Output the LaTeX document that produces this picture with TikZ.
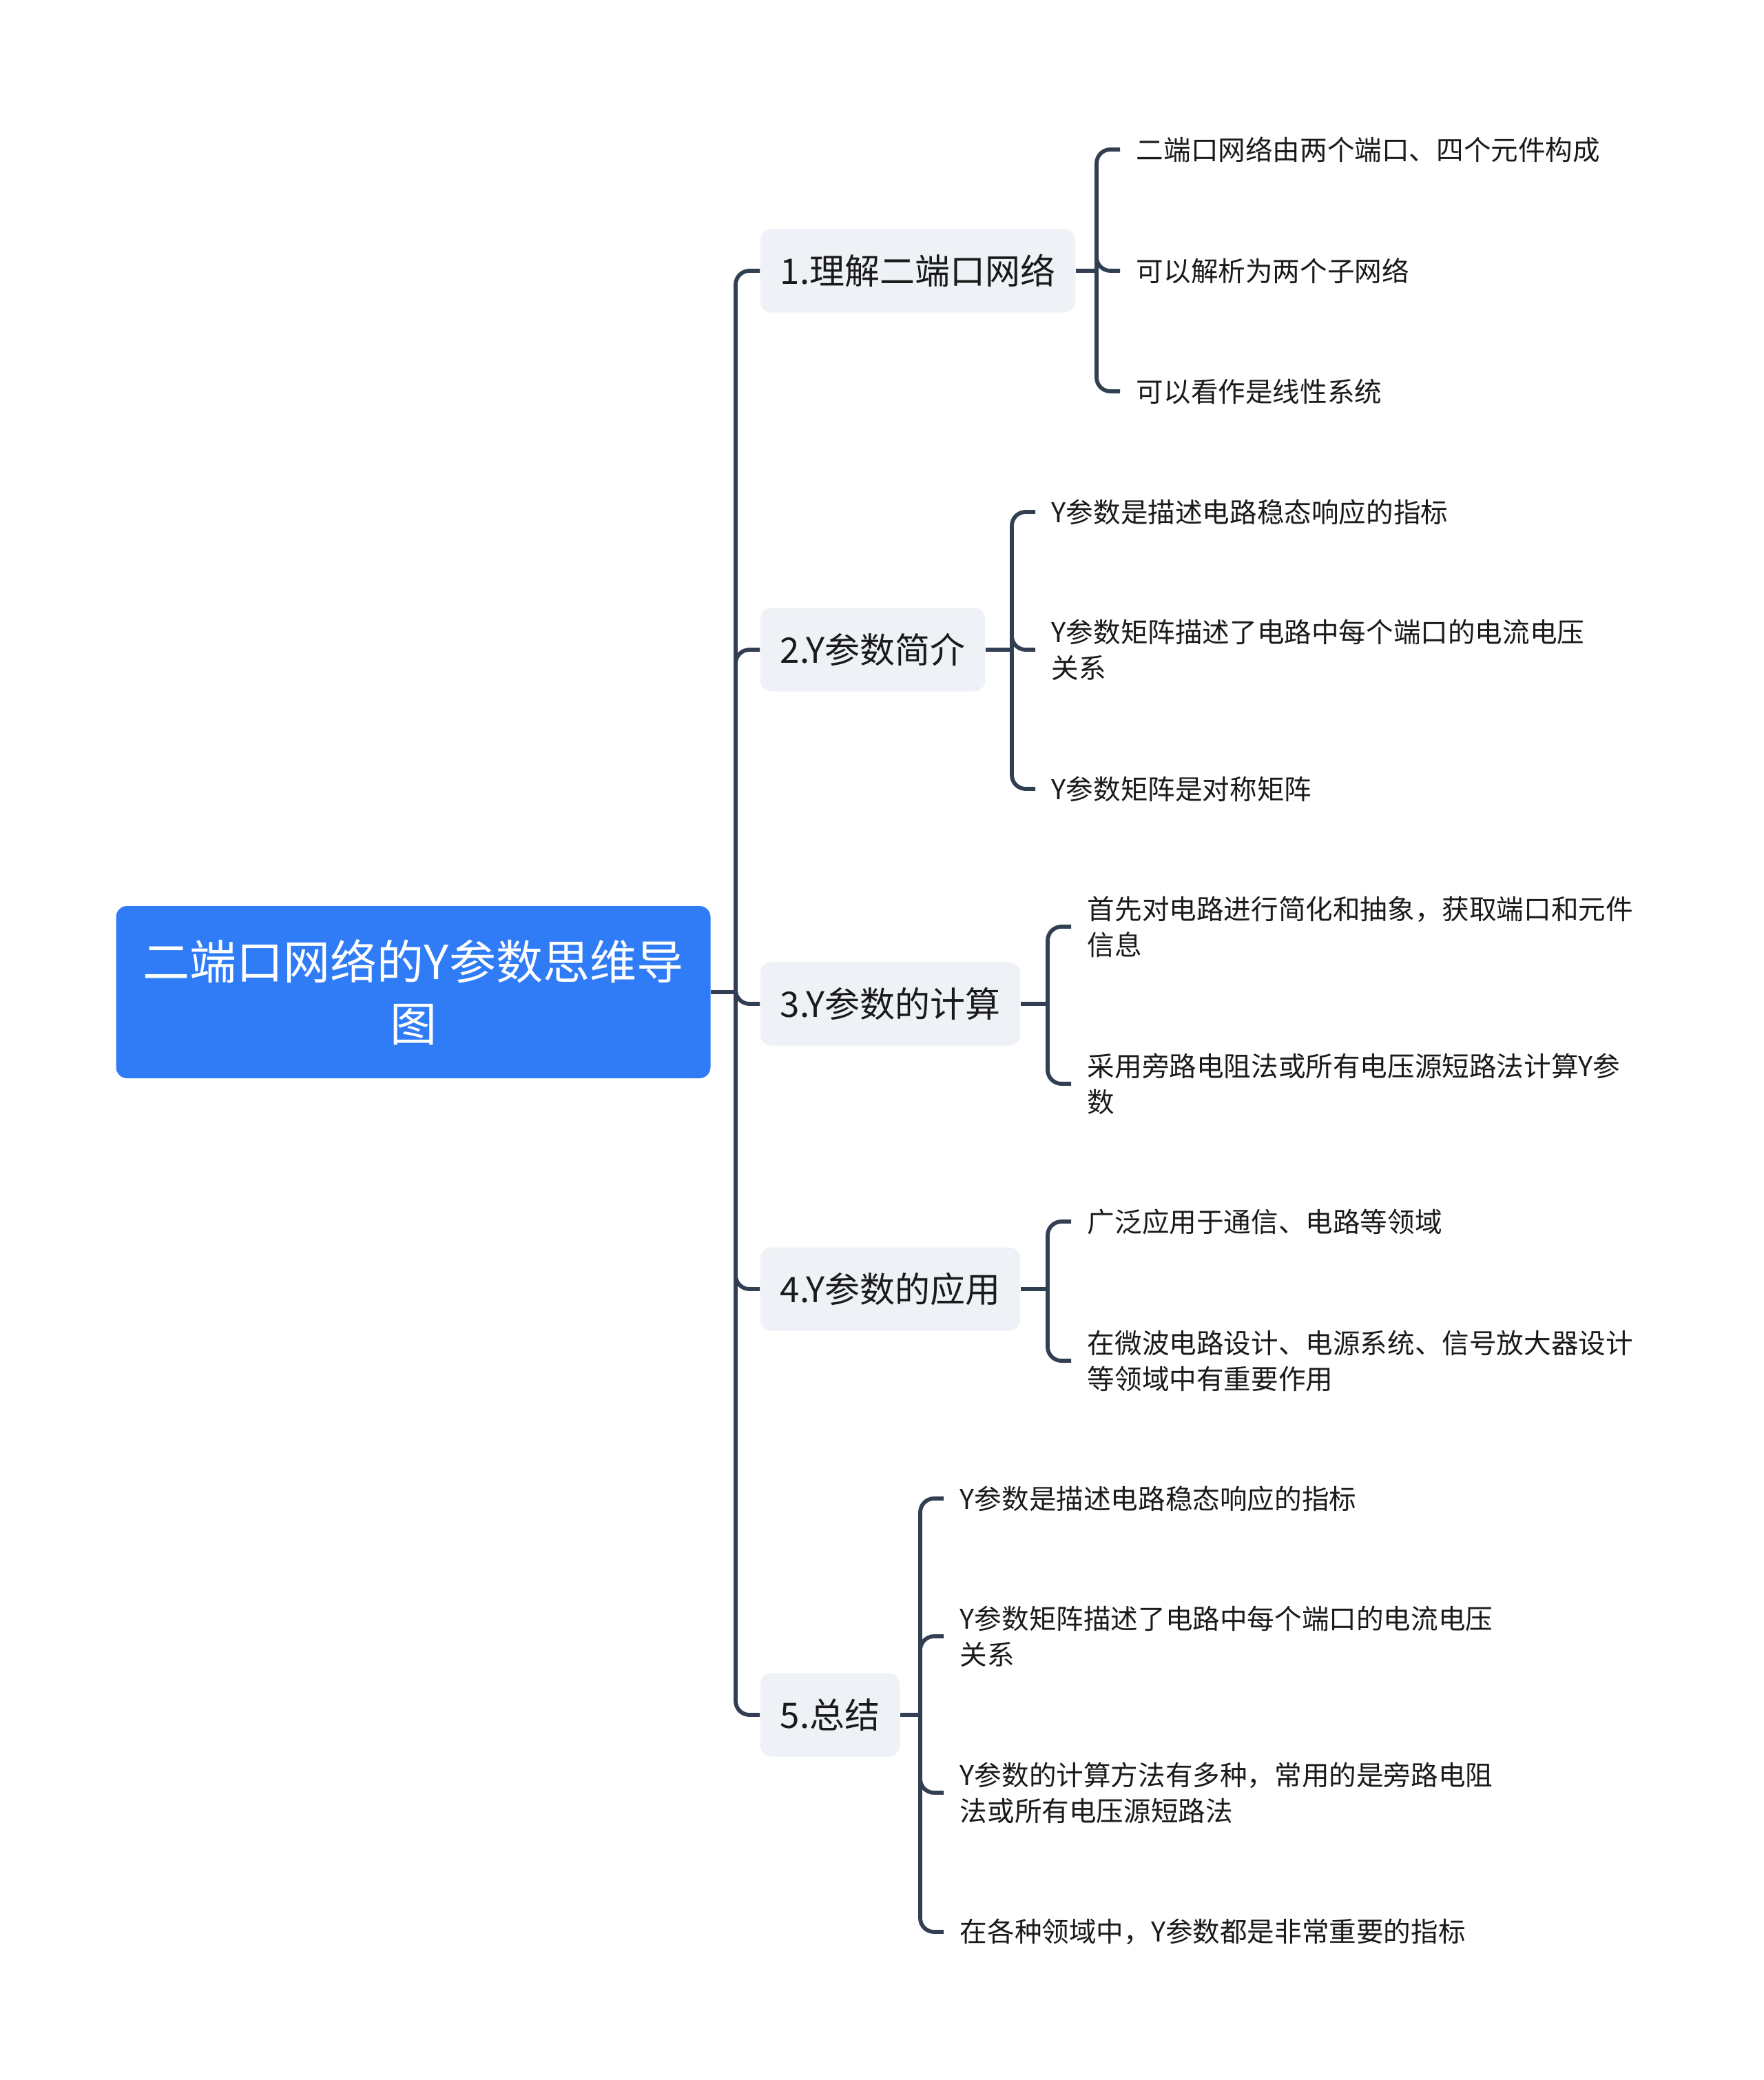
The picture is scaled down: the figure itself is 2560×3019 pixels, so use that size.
\documentclass[tikz,border=0pt]{standalone}
\usepackage{fontspec}
\setmainfont{Noto Sans CJK SC}
\usetikzlibrary{positioning}
\definecolor{rootblue}{HTML}{2F7CF6}
\definecolor{topicgray}{HTML}{EEF1F5}
\definecolor{linkslate}{HTML}{323F52}
\definecolor{textdark}{HTML}{1A1A1A}

\tikzset{
  rootbox/.style={fill=rootblue, rounded corners=4pt, text=white, align=center,
    font=\fontsize{17}{22.5}\selectfont, minimum width=215.75pt, minimum height=62.5pt, inner sep=0pt},
  topic/.style={fill=topicgray, rounded corners=4pt, text=textdark, anchor=west,
    font=\fontsize{12.75}{16}\selectfont, inner xsep=7.25pt, minimum height=30.25pt},
  leaf/.style={text=textdark, anchor=west, align=left,
    font=\fontsize{9.9}{13}\selectfont, inner xsep=5.75pt, inner ysep=0pt},
  link/.style={draw=linkslate, line width=1.45pt, rounded corners=5pt}
}

\begin{document}
\begin{tikzpicture}[x=0.25pt, y=-0.25pt]
  \useasboundingbox (0,0) rectangle (2560,3019);

  % central topic
  \node[rootbox] (root) at (600,1440) {二端口网络的Y参数思维导\\图};

  % main branches
  \node[topic] (t1) at (1103,393) {1.理解二端口网络};
  \node[topic] (t2) at (1103,943) {2.Y参数简介};
  \node[topic] (t3) at (1103,1457) {3.Y参数的计算};
  \node[topic] (t4) at (1103,1871) {4.Y参数的应用};
  \node[topic] (t5) at (1103,2489) {5.总结};

  % leaves
  \node[leaf] (l11) at (1626,217) {二端口网络由两个端口、四个元件构成};
  \node[leaf] (l12) at (1626,393) {可以解析为两个子网络};
  \node[leaf] (l13) at (1626,568) {可以看作是线性系统};

  \node[leaf] (l21) at (1503,743) {Y参数是描述电路稳态响应的指标};
  \node[leaf] (l22) at (1503,943) {Y参数矩阵描述了电路中每个端口的电流电压\\关系};
  \node[leaf] (l23) at (1503,1145) {Y参数矩阵是对称矩阵};

  \node[leaf] (l31) at (1555,1345) {首先对电路进行简化和抽象，获取端口和元件\\信息};
  \node[leaf] (l32) at (1555,1573) {采用旁路电阻法或所有电压源短路法计算Y参\\数};

  \node[leaf] (l41) at (1555,1773) {广泛应用于通信、电路等领域};
  \node[leaf] (l42) at (1555,1975) {在微波电路设计、电源系统、信号放大器设计\\等领域中有重要作用};

  \node[leaf] (l51) at (1370,2175) {Y参数是描述电路稳态响应的指标};
  \node[leaf] (l52) at (1370,2375) {Y参数矩阵描述了电路中每个端口的电流电压\\关系};
  \node[leaf] (l53) at (1370,2602) {Y参数的计算方法有多种，常用的是旁路电阻\\法或所有电压源短路法};
  \node[leaf] (l54) at (1370,2804) {在各种领域中，Y参数都是非常重要的指标};

  % links
  \coordinate (hub) at (1068,1440);
  \draw[link] (root.east) -- (hub);
  \foreach \t in {t1,t2,t3,t4,t5} \draw[link] (hub) |- (\t.west);

  \coordinate (k1) at (1592,393);
  \coordinate (k2) at (1469,943);
  \coordinate (k3) at (1521,1457);
  \coordinate (k4) at (1521,1871);
  \coordinate (k5) at (1336,2489);
  \draw[link] (t1.east) -- (k1);
  \draw[link] (t2.east) -- (k2);
  \draw[link] (t3.east) -- (k3);
  \draw[link] (t4.east) -- (k4);
  \draw[link] (t5.east) -- (k5);
  \foreach \l in {l11,l12,l13} \draw[link] (k1) |- (\l.west);
  \foreach \l in {l21,l22,l23} \draw[link] (k2) |- (\l.west);
  \foreach \l in {l31,l32} \draw[link] (k3) |- (\l.west);
  \foreach \l in {l41,l42} \draw[link] (k4) |- (\l.west);
  \foreach \l in {l51,l52,l53,l54} \draw[link] (k5) |- (\l.west);
\end{tikzpicture}
\end{document}
